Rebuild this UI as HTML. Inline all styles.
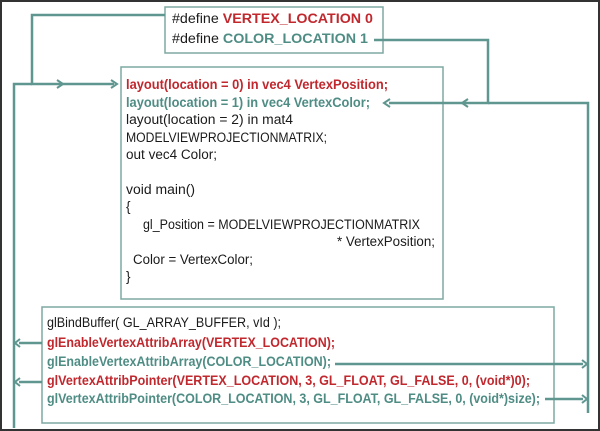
<!DOCTYPE html>
<html><head><meta charset="utf-8"><style>
html,body{margin:0;padding:0;background:#fff}
svg{display:block}
text{font-family:"Liberation Sans",sans-serif;font-size:13.5px}
.r{fill:#c0282e;font-weight:bold}
.t{fill:#4e8c84;font-weight:bold}
.k{fill:#1a1a1a}
</style></head><body>
<svg width="600" height="431" viewBox="0 0 600 431" xmlns="http://www.w3.org/2000/svg">
<rect x="1" y="1" width="598" height="429" fill="#fff" stroke="#333" stroke-width="2"/>
<g fill="#fff" stroke="#7fa8a3" stroke-width="1.5">
<rect x="165" y="7" width="218" height="46"/>
<rect x="121" y="67" width="322" height="232"/>
<rect x="42" y="307" width="512" height="116"/>
</g>
<g fill="none" stroke="#5f9690" stroke-width="2.5">
<polyline points="165,15 32,15 32,84 114,84"/>
<polyline points="14,428 14,84 32,84"/>
<polyline points="374,40 488,40 488,103 389,103"/>
<polyline points="488,103 588,103 588,413"/>
<line x1="42" y1="343" x2="19" y2="343"/>
<line x1="42" y1="382" x2="19" y2="382"/>
<line x1="335" y1="364" x2="583" y2="364"/>
<line x1="545" y1="399" x2="583" y2="399"/>
</g>
<g fill="none" stroke="#5f9690" stroke-width="2">
<polyline points="111,80 117,84 111,88"/>
<polyline points="57,80 63,84 57,88"/>
<polyline points="390,99 384,103 390,107"/>
<polyline points="468,99 462,103 468,107"/>
<polyline points="20,339 15,343 20,347"/>
<polyline points="20,378 15,382 20,386"/>
<polyline points="582,360 587,364 582,368"/>
<polyline points="582,395 587,399 582,403"/>
</g>
<text x="172" y="23" textLength="201" lengthAdjust="spacingAndGlyphs"><tspan class="k">#define </tspan><tspan class="r">VERTEX_LOCATION 0</tspan></text>
<text x="172" y="43" textLength="196" lengthAdjust="spacingAndGlyphs"><tspan class="k">#define </tspan><tspan class="t">COLOR_LOCATION 1</tspan></text>

<text class="r" x="126" y="89" textLength="262" lengthAdjust="spacingAndGlyphs">layout(location  = 0) in vec4 VertexPosition;</text>
<text class="t" x="126" y="107" textLength="244" lengthAdjust="spacingAndGlyphs">layout(location  = 1) in vec4 VertexColor;</text>
<text class="k" x="126" y="124" textLength="167" lengthAdjust="spacingAndGlyphs">layout(location = 2) in mat4</text>
<text class="k" x="126" y="142" textLength="201" lengthAdjust="spacingAndGlyphs">MODELVIEWPROJECTIONMATRIX;</text>
<text class="k" x="126" y="159" textLength="91" lengthAdjust="spacingAndGlyphs">out vec4 Color;</text>
<text class="k" x="126" y="194" textLength="69" lengthAdjust="spacingAndGlyphs">void main()</text>
<text class="k" x="126" y="211">{</text>
<text class="k" x="143" y="229" textLength="277" lengthAdjust="spacingAndGlyphs">gl_Position = MODELVIEWPROJECTIONMATRIX</text>
<text class="k" x="337" y="246" textLength="98" lengthAdjust="spacingAndGlyphs">* VertexPosition;</text>
<text class="k" x="133" y="264" textLength="120" lengthAdjust="spacingAndGlyphs">Color = VertexColor;</text>
<text class="k" x="126" y="281">}</text>

<text class="k" x="47" y="327" textLength="234" lengthAdjust="spacingAndGlyphs">glBindBuffer(  GL_ARRAY_BUFFER,  vId );</text>
<text class="r" x="47" y="347" textLength="288" lengthAdjust="spacingAndGlyphs">glEnableVertexAttribArray(VERTEX_LOCATION);</text>
<text class="t" x="47" y="366" textLength="284" lengthAdjust="spacingAndGlyphs">glEnableVertexAttribArray(COLOR_LOCATION);</text>
<text class="r" x="47" y="385" textLength="483" lengthAdjust="spacingAndGlyphs">glVertexAttribPointer(VERTEX_LOCATION,  3, GL_FLOAT, GL_FALSE, 0, (void*)0);</text>
<text class="t" x="47" y="403" textLength="493" lengthAdjust="spacingAndGlyphs">glVertexAttribPointer(COLOR_LOCATION,  3, GL_FLOAT,  GL_FALSE, 0, (void*)size);</text>
</svg>
</body></html>
